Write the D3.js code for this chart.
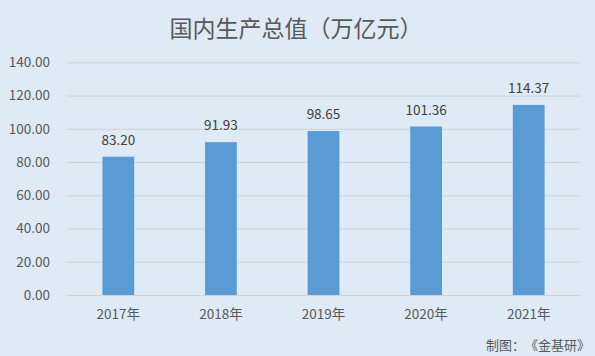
<!DOCTYPE html>
<html><head><meta charset="utf-8">
<script src="https://cdn.jsdelivr.net/npm/d3@7"></script>
<style>body{margin:0;background:#deeaf6;}svg{display:block;}
text{text-spacing-trim:space-all;font-feature-settings:"chws" 0,"halt" 0;}</style>
</head><body>
<script>
const categories = ["2017年","2018年","2019年","2020年","2021年"];
const values = [83.20, 91.93, 98.65, 101.36, 114.37];
const yTicks = [0,20,40,60,80,100,120,140];
const title = "国内生产总值（万亿元）";
const source = "制图：《金基研》";

(function(){
const W = 595, H = 356;
const svg = d3.select("body").append("svg").attr("width", W).attr("height", H);
svg.append("rect").attr("width", W).attr("height", H).attr("fill", "#deeaf6");
const font = "'Microsoft YaHei','Noto Sans CJK SC','DejaVu Sans',sans-serif";
const mLeft = 67, mRight = 580, mTop = 62.3, mBottom = 295;
const x = d3.scaleBand().domain(categories).range([mLeft, mRight]).paddingInner(0.69).paddingOuter(0.345);
const y = d3.scaleLinear().domain([0, 140]).range([mBottom, mTop]);

svg.append("text").attr("x", 296).attr("y", 37).attr("text-anchor", "middle")
  .attr("font-family", font).attr("font-size", 23).attr("fill", "#595959").text(title);

const yAxis = svg.append("g").attr("transform", `translate(${mLeft},0)`)
  .call(d3.axisLeft(y).tickValues(yTicks).tickSize(-(mRight-mLeft)).tickPadding(17).tickFormat(d3.format(".2f")));
yAxis.select(".domain").remove();
yAxis.selectAll(".tick line").attr("stroke", "#d0d3d6").attr("stroke-width", 1);
yAxis.selectAll(".tick text").attr("font-family", font).attr("font-size", 13.5).attr("fill", "#595959");

svg.selectAll("rect.bar").data(values).enter().append("rect").attr("class","bar")
  .attr("x", (d,i) => x(categories[i])).attr("width", x.bandwidth())
  .attr("y", d => y(d)).attr("height", d => mBottom - y(d)).attr("fill", "#5b9bd5");

svg.selectAll("text.val").data(values).enter().append("text").attr("class","val")
  .attr("x", (d,i) => x(categories[i]) + x.bandwidth()/2).attr("y", d => y(d) - 12)
  .attr("text-anchor", "middle").attr("font-family", font).attr("font-size", 13.5).attr("fill", "#404040")
  .text(d => d.toFixed(2));

const xAxis = svg.append("g").attr("transform", `translate(0,${mBottom})`)
  .call(d3.axisBottom(x).tickSize(0).tickPadding(14));
xAxis.select(".domain").remove();
xAxis.selectAll(".tick text").attr("font-family", font).attr("font-size", 13.5).attr("fill", "#595959");

svg.append("text").attr("x", 590).attr("y", 350).attr("text-anchor", "end")
  .attr("font-family", font).attr("font-size", 13).attr("fill", "#595959").text(source);
})();
</script>
</body></html>
